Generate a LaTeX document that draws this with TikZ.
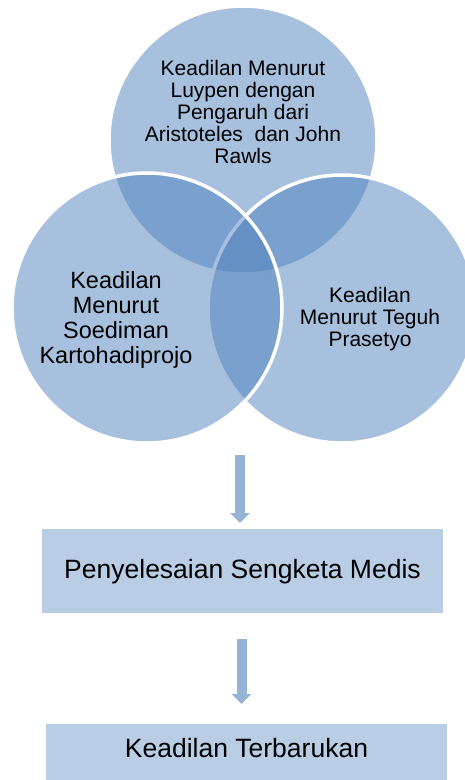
\documentclass[tikz,border=0pt]{standalone}
\usepackage{fontspec}
\setmainfont{Liberation Sans}
\usetikzlibrary{arrows.meta}
\definecolor{accent}{HTML}{4F81BD}
\definecolor{boxfill}{HTML}{B9CDE5}
\definecolor{arrowc}{HTML}{95B3D7}
\tikzset{
  venn/.style={circle, fill=accent, fill opacity=0.5, draw=white, line width=3.5pt, inner sep=0pt},
  vtext/.style={align=center, text=black, inner sep=0pt},
  boxnode/.style={rectangle, fill=boxfill, draw=none, minimum width=401pt, inner sep=0pt},
  flowarrow/.style={draw=arrowc, line width=10pt, -{Triangle[length=10pt,width=19pt]}}
}
\begin{document}
\begin{tikzpicture}[x=1pt,y=-1pt]
\useasboundingbox (0,0) rectangle (465,780);
\clip (0,0) rectangle (465,780);
% Venn circles (order: top, right, left)
\node[venn, minimum size=268pt] (ctop) at (243,140) {};
\node[venn, minimum size=268pt] (cright) at (342,309) {};
\node[venn, minimum size=270pt] (cleft) at (147,308) {};
% Venn texts
\node[vtext, font=\fontsize{21}{22}\selectfont] (ttop) at (243,112) {Keadilan Menurut\\Luypen dengan\\Pengaruh dari\\Aristoteles\ \ dan John\\Rawls};
\node[vtext, font=\fontsize{23.5}{25}\selectfont] (tleft) at (116,320) {Keadilan\\Menurut\\Soediman\\Kartohadiprojo};
\node[vtext, font=\fontsize{21}{22}\selectfont] (tright) at (370,319) {Keadilan\\Menurut Teguh\\Prasetyo};
% Boxes
\node[boxnode, minimum height=84pt, anchor=north] (box1) at (242.5,529) {};
\node[font=\fontsize{26.5}{28}\selectfont, inner sep=0pt] (t1) at (box1.center) {Penyelesaian Sengketa Medis};
\node[boxnode, minimum height=84pt, anchor=north] (box2) at (246.5,724) {};
\node[font=\fontsize{26.5}{28}\selectfont, inner sep=0pt] (t2) at (246.5,748) {Keadilan Terbarukan};
% Arrows
\coordinate (a1s) at (240,455);
\coordinate (a1e) at (240,523);
\coordinate (a2s) at (241.5,639);
\coordinate (a2e) at (241.5,704);
\draw[flowarrow] (a1s) -- (a1e);
\draw[flowarrow] (a2s) -- (a2e);
\end{tikzpicture}
\end{document}
